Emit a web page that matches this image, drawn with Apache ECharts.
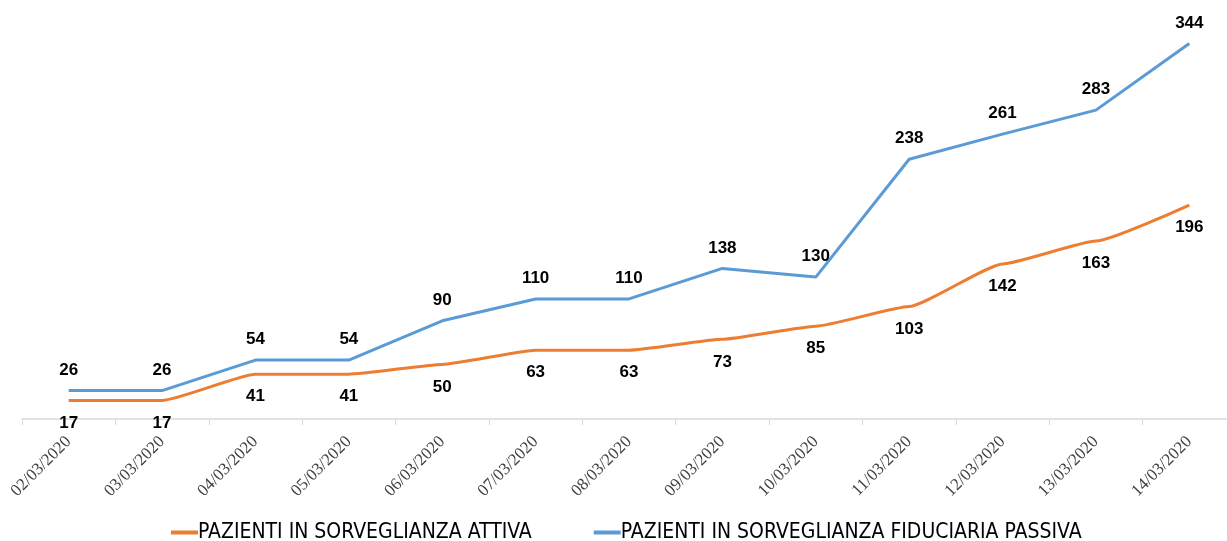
<!DOCTYPE html>
<html>
<head>
<meta charset="utf-8">
<script src="https://cdn.jsdelivr.net/npm/echarts@6/dist/echarts.min.js"></script>
<style>
html,body{margin:0;padding:0;background:#fff;}
#main{width:1227px;height:541px;}
</style>
</head>
<body>
<div id="main"></div>
<script>
var dates = ['02/03/2020','03/03/2020','04/03/2020','05/03/2020','06/03/2020','07/03/2020','08/03/2020',
             '09/03/2020','10/03/2020','11/03/2020','12/03/2020','13/03/2020','14/03/2020'];
var attiva = [17, 17, 41, 41, 50, 63, 63, 73, 85, 103, 142, 163, 196];
var passiva = [26, 26, 54, 54, 90, 110, 110, 138, 130, 238, 261, 283, 344];
var names = ['PAZIENTI IN SORVEGLIANZA ATTIVA', 'PAZIENTI IN SORVEGLIANZA FIDUCIARIA PASSIVA'];

var myChart = echarts.init(document.getElementById('main'));

// etichette dei valori, grassetto nero
var labelFont = {
    fontFamily: 'Liberation Sans',
    fontWeight: 'bold',
    fontSize: 17,
    color: '#000'
};

var option = {
    animation: false,
    backgroundColor: '#fff',
    legend: {
        left: 166,
        top: 517,
        itemGap: 62,
        itemWidth: 27,
        itemHeight: 4,
        icon: 'rect',
        textStyle: {
            fontFamily: 'DejaVu Sans Condensed',
            fontSize: 21,
            color: '#000',
            padding: [0, 0, 0, -5]
        },
        data: names
    },
    grid: {
        left: 22,
        top: 37,
        width: 1214,
        height: 382,
        outerBoundsMode: 'none',
        containLabel: false
    },
    xAxis: {
        type: 'category',
        data: dates,
        boundaryGap: true,
        axisLine: { lineStyle: { color: '#d9d9d9', width: 1.5 } },
        axisTick: { show: true, length: 6, lineStyle: { color: '#d9d9d9' } },
        axisLabel: {
            rotate: 45,
            margin: 20,
            interval: 0,
            fontFamily: 'Liberation Serif',
            fontSize: 17,
            color: '#404040'
        }
    },
    yAxis: {
        type: 'value',
        min: 0,
        max: 350,
        show: false
    },
    series: [
        {
            name: names[0],
            type: 'line',
            data: attiva,
            smooth: 0.15,
            smoothMonotone: 'x',
            symbol: 'circle',
            symbolSize: 0,
            lineStyle: { color: '#ed7d31', width: 3 },
            itemStyle: { color: '#ed7d31' },
            label: Object.assign({ show: true, position: 'bottom', distance: 14 }, labelFont)
        },
        {
            name: names[1],
            type: 'line',
            data: passiva,
            symbol: 'circle',
            symbolSize: 0,
            lineStyle: { color: '#5b9bd5', width: 3 },
            itemStyle: { color: '#5b9bd5' },
            label: Object.assign({ show: true, position: 'top', distance: 12 }, labelFont)
        }
    ]
};

myChart.setOption(option);
</script>
</body>
</html>
